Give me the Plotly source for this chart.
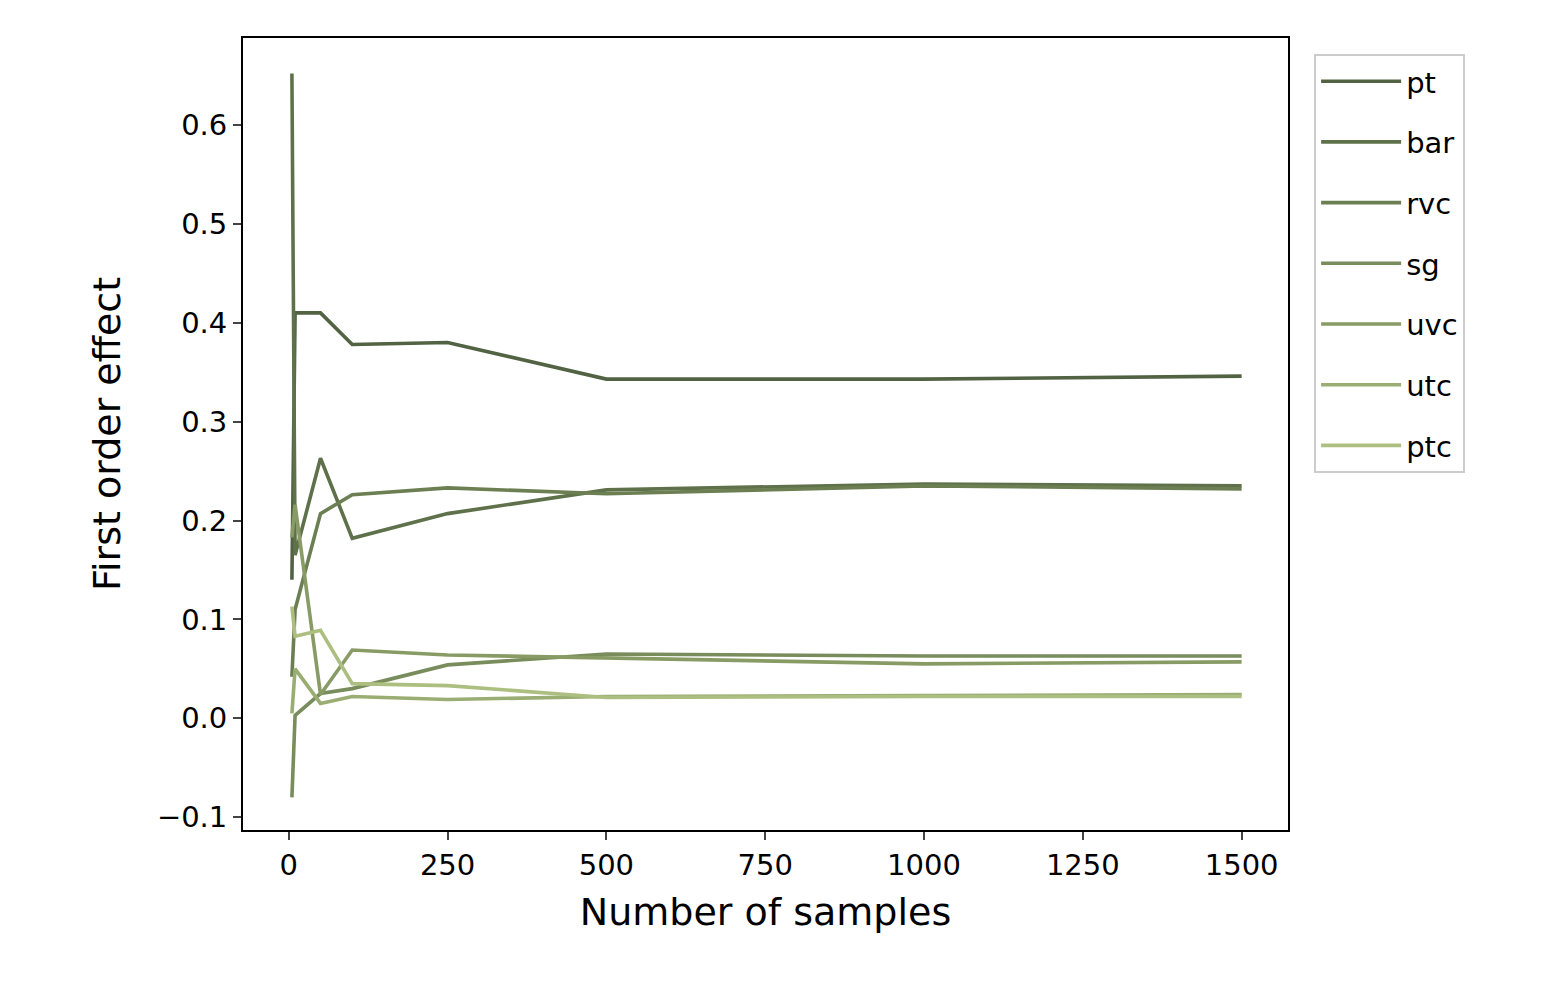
import plotly.graph_objects as go

samples = [5, 10, 50, 100, 250, 500, 1000, 1500]
pt = [0.14, 0.41, 0.41, 0.378, 0.38, 0.343, 0.343, 0.346]
bar = [0.652, 0.165, 0.263, 0.182, 0.207, 0.231, 0.237, 0.235]
rvc = [0.042, 0.11, 0.207, 0.226, 0.233, 0.227, 0.235, 0.232]
sg = [-0.08, 0.003, 0.025, 0.03, 0.054, 0.065, 0.063, 0.063]
uvc = [0.183, 0.216, 0.024, 0.069, 0.064, 0.061, 0.055, 0.057]
utc = [0.005, 0.05, 0.015, 0.022, 0.019, 0.022, 0.023, 0.024]
ptc = [0.113, 0.083, 0.089, 0.035, 0.033, 0.021, 0.022, 0.022]

names = ["pt", "bar", "rvc", "sg", "uvc", "utc", "ptc"]
series = [pt, bar, rvc, sg, uvc, utc, ptc]
colors = ["#526343", "#5e714a", "#6b7f53", "#788c5c", "#889b65", "#9aad73", "#adbf80"]

fig = go.Figure()
for n, s, c in zip(names, series, colors):
    fig.add_trace(go.Scatter(x=samples, y=s, name=n, mode="lines", legendgroup=n,
                             line=dict(color=c, width=3.6)))

axis = dict(showgrid=False, zeroline=False, showline=True, mirror=True,
            linecolor="black", linewidth=1.8, ticks="outside", ticklen=8,
            tickwidth=1.8, tickfont=dict(size=29, color="black"))
fig.update_layout(
    width=1565, height=995,
    paper_bgcolor="white", plot_bgcolor="white",
    font=dict(family="DejaVu Sans", color="black"),
    margin=dict(l=235, r=285, t=30, b=173),
    xaxis=dict(axis, range=[-72, 1573], tickvals=[0, 250, 500, 750, 1000, 1250, 1500],
               title=dict(text="Number of samples", font=dict(size=38), standoff=18)),
    yaxis=dict(axis, range=[-0.113, 0.688], tickvals=[-0.1, 0, 0.1, 0.2, 0.3, 0.4, 0.5, 0.6],
               ticktext=["\u22120.1", "0.0", "0.1", "0.2", "0.3", "0.4", "0.5", "0.6"],
               title=dict(text="First order effect", font=dict(size=38), standoff=25)),
    legend=dict(x=1.025, y=0.98, xanchor="left", yanchor="top",
                bordercolor="#cccccc", borderwidth=2,
                font=dict(size=29), tracegroupgap=20, itemwidth=80),
)
fig.write_html("out.html")
